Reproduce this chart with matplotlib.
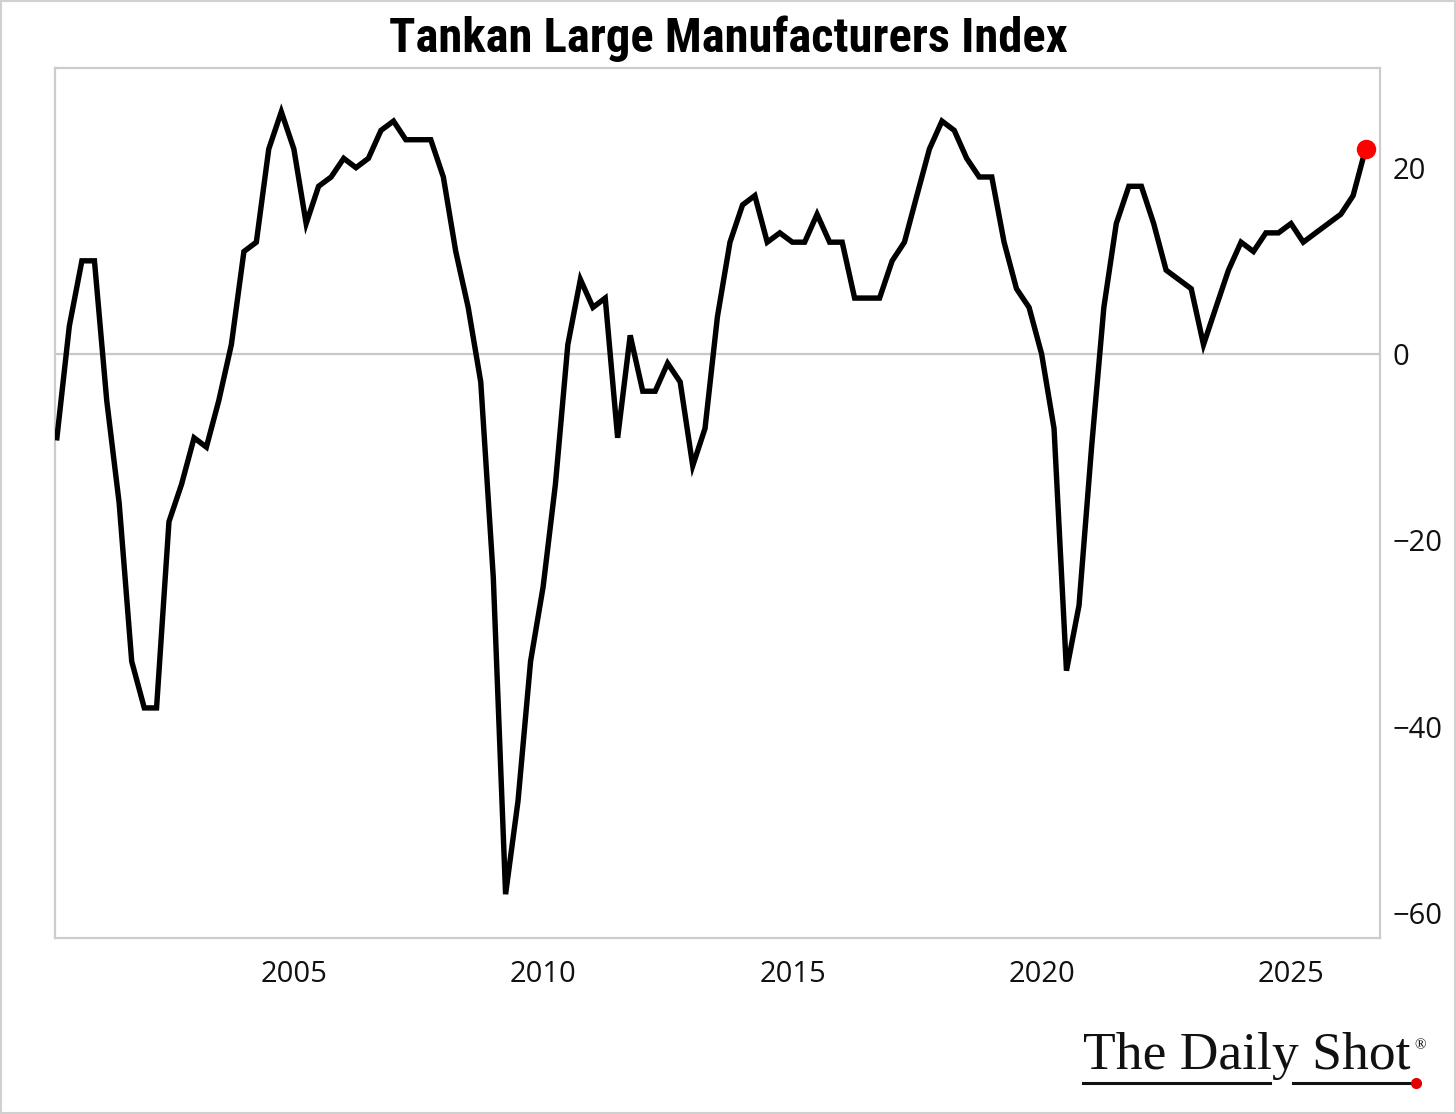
import pandas as pd
import matplotlib.pyplot as plt
import matplotlib.dates as mdates
from matplotlib.lines import Line2D
from matplotlib.patches import Rectangle

# quarterly diffusion index, first obs Mar 2000
start_quarter = '2000-03-31'
tankan_di = [-9, 3, 10, 10, -5, -16, -33, -38, -38, -18,
             -14, -9, -10, -5, 1, 11, 12, 22, 26, 22,
             14, 18, 19, 21, 20, 21, 24, 25, 23, 23,
             23, 19, 11, 5, -3, -24, -58, -48, -33, -25,
             -14, 1, 8, 5, 6, -9, 2, -4, -4, -1,
             -3, -12, -8, 4, 12, 16, 17, 12, 13, 12,
             12, 15, 12, 12, 6, 6, 6, 10, 12, 17,
             22, 25, 24, 21, 19, 19, 12, 7, 5, 0,
             -8, -34, -27, -10, 5, 14, 18, 18, 14, 9,
             8, 7, 1, 5, 9, 12, 11, 13, 13, 14,
             12, 13, 14, 15, 17, 22]
year_ticks = [2005, 2010, 2015, 2020, 2025]
y_ticks = [20, 0, -20, -40, -60]

df = pd.DataFrame({'Date': pd.date_range(start_quarter, periods=len(tankan_di), freq='QE'),
                   'DI': tankan_di})

fig = plt.figure(figsize=(14.56, 11.14), dpi=100)
ax = fig.add_axes([55/1456, 1-938/1114, (1380-55)/1456, (938-68)/1114])

ax.axhline(0, color='#c8c8c8', lw=1.6, zorder=1)
ax.plot(df['Date'], df['DI'], color='black', lw=3.9, zorder=3, solid_joinstyle='miter')
ax.plot(df['Date'].iloc[-1], df['DI'].iloc[-1], 'o', color='#ff0000', ms=13, zorder=4)

ax.set_xlim(pd.Timestamp('2000-03-17'), pd.Timestamp('2026-10-14'))
ax.set_ylim(-62.7, 30.7)
ax.set_xticks([pd.Timestamp(f'{y}-01-01') for y in year_ticks])
ax.xaxis.set_major_formatter(mdates.DateFormatter('%Y'))
ax.set_yticks(y_ticks)
ax.yaxis.tick_right()
ax.tick_params(axis='both', length=0, labelsize=21, colors='#111111')
ax.tick_params(axis='x', pad=16)
ax.tick_params(axis='y', pad=9)
for lab in ax.get_xticklabels() + ax.get_yticklabels():
    lab.set_family(['Open Sans', 'DejaVu Sans'])
for s in ax.spines.values():
    s.set_color('#cccccc')
    s.set_linewidth(1.6)

fig.text(0.5, 1-39/1114, 'Tankan Large Manufacturers Index', ha='center', va='center',
         fontsize=35, fontweight='bold', family=['Liberation Sans Narrow', 'Roboto Condensed', 'Roboto'])

# logo
fig.text(1083/1456, 1-1056/1114, 'The Daily Shot', ha='left', va='center',
         fontsize=38.5, family=['Liberation Serif', 'DejaVu Serif'], color='#111111')
fig.text(1414/1456, 1-1046/1114, '®', ha='left', va='center', fontsize=11,
         family=['Liberation Serif', 'DejaVu Serif'])
fig.add_artist(Line2D([1083/1456, 1270/1456], [1-1083/1114]*2, color='#111111', lw=2.2))
fig.add_artist(Line2D([1293/1456, 1414/1456], [1-1083/1114]*2, color='#111111', lw=2.2))
fig.add_artist(Line2D([1416/1456], [1-1083/1114], marker='o', color='#e00000', ms=7))

fig.add_artist(Rectangle((0.0005, 0.0005), 0.999, 0.999, transform=fig.transFigure,
                         fill=False, edgecolor='#d0d0d0', lw=1.5))

fig.savefig('out.png', dpi=100, facecolor='white')
